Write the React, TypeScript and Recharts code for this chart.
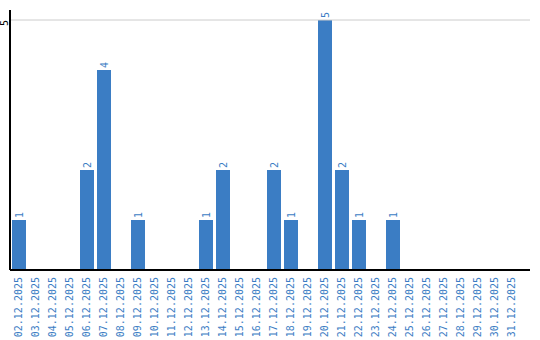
import { BarChart, Bar, XAxis, YAxis, ReferenceLine, LabelList } from 'recharts'

const days = [
  '02.12.2025', '03.12.2025', '04.12.2025', '05.12.2025', '06.12.2025',
  '07.12.2025', '08.12.2025', '09.12.2025', '10.12.2025', '11.12.2025',
  '12.12.2025', '13.12.2025', '14.12.2025', '15.12.2025', '16.12.2025',
  '17.12.2025', '18.12.2025', '19.12.2025', '20.12.2025', '21.12.2025',
  '22.12.2025', '23.12.2025', '24.12.2025', '25.12.2025', '26.12.2025',
  '27.12.2025', '28.12.2025', '29.12.2025', '30.12.2025', '31.12.2025',
]
const counts = [1, 0, 0, 0, 2, 4, 0, 1, 0, 0, 0, 1, 2, 0, 0, 2, 1, 0, 5, 2, 1, 0, 1, 0, 0, 0, 0, 0, 0, 0]
const yTicks = [5]

const data = days.map((day, i) => ({ day, count: counts[i] }))

const BLUE = '#3b7dc4'
const FONT = '"DejaVu Sans Mono", monospace'

const XTick = (props: any) => {
  const { x, y, payload } = props
  return (
    <text
      transform={`translate(${x},${y + 7}) rotate(-90)`}
      textAnchor="end"
      dominantBaseline="central"
      fill={BLUE}
      fontSize={10}
      fontFamily={FONT}
    >
      {payload.value}
    </text>
  )
}

const YTick = (props: any) => {
  const { y, payload } = props
  return (
    <text
      transform={`translate(4,${y + 6}) rotate(-90)`}
      textAnchor="start"
      dominantBaseline="central"
      fill="#000"
      fontSize={10}
      fontFamily={FONT}
    >
      {payload.value}
    </text>
  )
}

const ValueLabel = (props: any) => {
  const { x, y, width, value } = props
  if (!value) return null
  return (
    <text
      transform={`translate(${x + width / 2},${y - 2}) rotate(-90)`}
      textAnchor="start"
      dominantBaseline="central"
      fill={BLUE}
      fontSize={10}
      fontFamily={FONT}
    >
      {value}
    </text>
  )
}

export default function App() {
  return (
    <div style={{ position: 'absolute', left: 0, top: 0 }}>
      <BarChart width={540} height={340} data={data} margin={{ top: 10, right: 10, bottom: 0, left: 0 }}>
        <XAxis
          dataKey="day"
          interval={0}
          height={70}
          tickSize={0}
          tickMargin={0}
          tick={<XTick />}
          axisLine={{ stroke: '#000', strokeWidth: 2 }}
          padding={{ left: 0, right: 10 }}
        />
        <YAxis
          width={10}
          domain={[0, 5.2]}
          ticks={yTicks}
          tickSize={0}
          tickMargin={0}
          tick={<YTick />}
          axisLine={{ stroke: '#000', strokeWidth: 2 }}
        />
        {yTicks.map((t) => (
          <ReferenceLine key={t} y={t} stroke="#cccccc" />
        ))}
        <Bar dataKey="count" fill={BLUE} barSize={14} isAnimationActive={false}>
          <LabelList dataKey="count" content={<ValueLabel />} />
        </Bar>
      </BarChart>
    </div>
  )
}
